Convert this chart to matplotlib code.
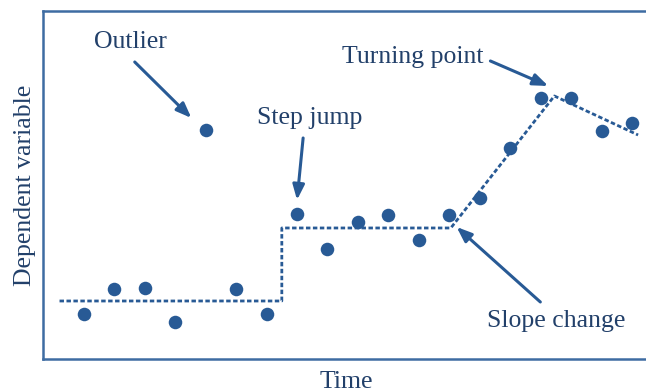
import matplotlib
matplotlib.use("Agg")
import matplotlib.pyplot as plt

# observations (time index, value)
time = list(range(1, 20))
values = [4.5, 7.0, 7.1, 3.7, 22.9, 7.0, 4.5, 14.5, 11.0, 13.7,
          14.4, 11.9, 14.4, 16.1, 21.1, 26.1, 26.1, 22.8, 23.6]

# fitted trend (piecewise: level, step, level, slope, turn)
trend_x = [0.2, 7.5, 7.5, 13.05, 16.45, 19.2]
trend_y = [5.8, 5.8, 13.1, 13.1, 26.3, 22.4]

# annotations: label, text position, arrow tail, arrow head
labels = ["Outlier", "Step jump", "Turning point", "Slope change"]
text_pos = [(2.54, 31.7), (8.4, 24.1), (11.8, 30.2), (16.5, 3.8)]
arrow_tail = [(2.67, 29.7), (8.2, 22.1), (14.35, 29.8), (15.99, 5.7)]
arrow_head = [(4.53, 24.1), (8.0, 15.9), (16.25, 27.3), (13.24, 13.2)]

DOT = "#285a95"
TEXT = "#22406a"
SPINE = "#3e6ca2"

plt.rcParams["font.family"] = ["Liberation Serif", "DejaVu Serif"]

fig = plt.figure(figsize=(6.46, 3.92), dpi=100)
ax = fig.add_axes([0.0666, 0.0842, 0.94, 0.8878])

ax.plot(trend_x, trend_y, color=DOT, lw=2.0, linestyle=(0, (1.6, 0.9)))
ax.scatter(time, values, s=95, color=DOT, zorder=3, linewidths=0)

for lab, tp, tail, head in zip(labels, text_pos, arrow_tail, arrow_head):
    ax.text(tp[0], tp[1], lab, ha="center", va="center", fontsize=18.5, color=TEXT)
    ax.annotate("", xy=head, xytext=tail,
                arrowprops=dict(arrowstyle="-|>,head_length=0.9,head_width=0.35",
                                color=DOT, lw=2.2, shrinkA=0, shrinkB=0))

ax.set_xlim(-0.342, 19.6)
ax.set_ylim(0, 34.8)
ax.set_xticks([])
ax.set_yticks([])
ax.spines["right"].set_visible(False)
for side in ["left", "top", "bottom"]:
    ax.spines[side].set_color(SPINE)
    ax.spines[side].set_linewidth(1.8)

ax.set_xlabel("Time", fontsize=18.5, color=TEXT, labelpad=9)
ax.set_ylabel("Dependent variable", fontsize=18.5, color=TEXT, labelpad=5)

fig.savefig("out.png", dpi=100)
